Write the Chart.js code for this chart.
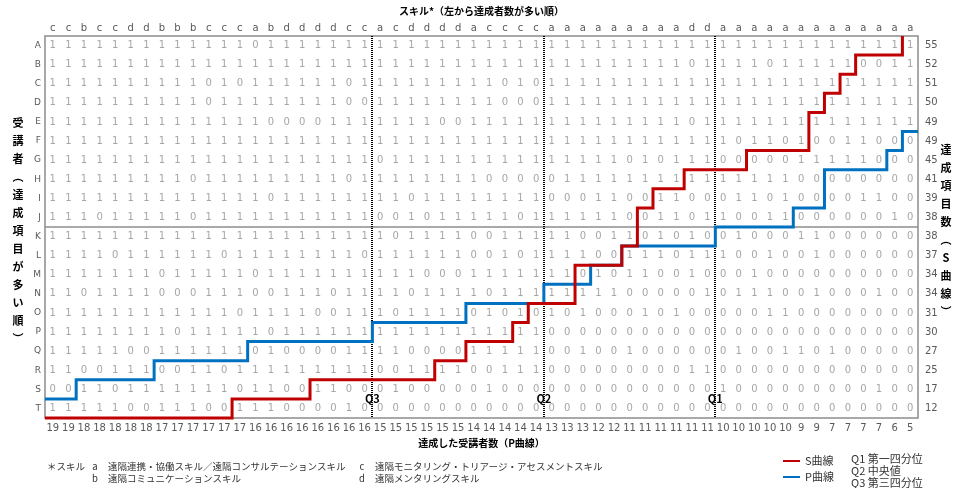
<!DOCTYPE html>
<html lang="ja">
<head>
<meta charset="utf-8">
<title>S-P表</title>
<script src="https://cdn.jsdelivr.net/npm/chart.js@4.4.1/dist/chart.umd.min.js"></script>
<style>
  html, body { margin: 0; padding: 0; background: #fff; }
  #wrap { width: 967px; height: 488px; }
</style>
</head>
<body>
<div id="wrap"><canvas id="spChart" width="967" height="488"></canvas></div>
<script>
// skills, left to right (most achievers first)
const skills = ['c','c','b','c','c','d','d','b','b','b','c','c','c','a','b','d','d','d','d','c','c',
  'a','c','d','d','d','d','a','c','c','c','c','a','a','a','a','a','a','a','a','a','d','d',
  'a','a','a','a','a','a','a','a','a','a','a','a','a'];

const students = ['A','B','C','D','E','F','G','H','I','J','K','L','M','N','O','P','Q','R','S','T'];

// 1 = achieved, one string per student, one char per skill
const cells = [
  '11111111111110111111111111111111111111111111111111111111',
  '11111111111111111111111111111111111111111011110111110011',
  '11111111110101111110111111111010111111111111111111111111',
  '11111111110111111110011111111000111111111111111111111111',
  '11111111111111000011111110011111111111111011111111111111',
  '11111111111111111111111111111111111111111111011010011000',
  '11111111111111111111101111111111111110101110000011111000',
  '11111111101111111110111111110000011111111111111100000000',
  '11111111111111011111111011111111000110011000110100001100',
  '11101111101111111111100101111101111110011011001100000010',
  '11111111111111111111110111100111110011010100100011000000',
  '11110111111011111111011111100101111001110111001001000000',
  '11111110111110111111111100011111110101100100010000000000',
  '11011110001110011101111011110111111110000010111001000100',
  '11111111111101111001110111101010101000101000001100000000',
  '11111111011111011111111111111111000000000000000000000000',
  '11111001111110100001111000011111001001000000100110100000',
  '11001110011011111111100111100111000000000110000000000000',
  '00110111111101100110001000001000000000000001000000000100',
  '11111001110011100001000000000000000000000000000000000000'
];

// achieved items per student (S curve) and achievers per skill (P curve)
const sScores = [55, 52, 51, 50, 49, 49, 45, 41, 39, 38, 38, 37, 34, 34, 31, 30, 27, 25, 17, 12];
const pCounts = [19, 19, 18, 18, 18, 18, 18, 17, 17, 17, 17, 17, 17, 16, 16, 16, 16, 16, 16, 16, 16,
  15, 15, 15, 15, 15, 15, 14, 14, 14, 14, 14, 13, 13, 13, 12, 12, 11, 11, 11, 11, 11, 11,
  10, 10, 10, 10, 10, 9, 9, 7, 7, 7, 7, 6, 5];

// quartile markers: line drawn after this skill column
const quartiles = [
  { label: 'Q3', after: 21 },
  { label: 'Q2', after: 32 },
  { label: 'Q1', after: 43 }
];

const skillNotes = [
  ['a', '遠隔連携・協働スキル／遠隔コンサルテーションスキル'],
  ['b', '遠隔コミュニケーションスキル'],
  ['c', '遠隔モニタリング・トリアージ・アセスメントスキル'],
  ['d', '遠隔メンタリングスキル']
];
const quartileNotes = ['Q1 第一四分位', 'Q2 中央値', 'Q3 第三四分位'];

const CJK = '"Noto Sans CJK JP", "Noto Sans", sans-serif';
const NUM = '"DejaVu Sans", sans-serif';
const RED = '#c00000';
const BLUE = '#0070c0';

// step outlines built from the score arrays
const sLine = [];
sScores.forEach((s, i) => {
  sLine.push({ x: s + 0.5, y: i + 0.5 }, { x: s + 0.5, y: i + 1.5 });
});
sLine.push({ x: 0.5, y: students.length + 0.5 });

const pLine = [];
pCounts.forEach((c, j) => {
  pLine.push({ x: j + 0.5, y: c + 0.5 }, { x: j + 1.5, y: c + 0.5 });
});

const colTicks = (axis) => { axis.ticks = skills.map((_, j) => ({ value: j + 1 })); };
const rowTicks = (axis) => { axis.ticks = students.map((_, i) => ({ value: i + 1 })); };
const noGrid = { display: false, drawTicks: false };

function stacked(ctx, text, x, cy, step) {
  const chars = [...text].map((ch) => (ch === '（' ? '︵' : ch === '）' ? '︶' : ch));
  chars.forEach((ch, k) => ctx.fillText(ch, x, cy + (k - (chars.length - 1) / 2) * step));
}

const spTable = {
  id: 'spTable',
  beforeDatasetsDraw(chart) {
    const { ctx, chartArea: a, scales: { x, y } } = chart;
    ctx.save();

    ctx.font = '10px ' + NUM;
    ctx.fillStyle = '#a6a6a6';
    ctx.textAlign = 'center';
    ctx.textBaseline = 'middle';
    cells.forEach((row, i) => {
      [...row].forEach((v, j) => {
        ctx.fillText(v, x.getPixelForValue(j + 1), y.getPixelForValue(i + 1));
      });
    });

    // split between upper and lower half of the class
    ctx.strokeStyle = '#8c8c8c';
    ctx.lineWidth = 1.5;
    const mid = y.getPixelForValue(students.length / 2 + 0.5);
    ctx.beginPath();
    ctx.moveTo(a.left, mid);
    ctx.lineTo(a.right, mid);
    ctx.stroke();

    ctx.strokeRect(a.left, a.top, a.right - a.left, a.bottom - a.top);

    ctx.strokeStyle = '#000';
    ctx.lineWidth = 2;
    ctx.setLineDash([1, 1]);
    quartiles.forEach((q) => {
      const qx = Math.round(x.getPixelForValue(q.after + 0.5));
      ctx.beginPath();
      ctx.moveTo(qx, a.top);
      ctx.lineTo(qx, a.bottom);
      ctx.stroke();
    });
    ctx.restore();
  },
  afterDatasetsDraw(chart) {
    const { ctx, scales: { x, y } } = chart;
    ctx.save();
    ctx.font = 'bold 11px ' + CJK;
    ctx.fillStyle = '#000';
    ctx.textAlign = 'center';
    ctx.textBaseline = 'middle';
    quartiles.forEach((q) => {
      ctx.fillText(q.label, x.getPixelForValue(q.after + 0.5), y.getPixelForValue(students.length - 0.5));
    });
    ctx.restore();
  },
  afterDraw(chart) {
    const { ctx, chartArea: a } = chart;
    ctx.save();
    ctx.fillStyle = '#000';
    ctx.textAlign = 'center';
    ctx.textBaseline = 'middle';
    ctx.font = 'bold 11px ' + CJK;
    const cy = (a.top + a.bottom) / 2 + 4;
    stacked(ctx, '受講者（達成項目が多い順）', 18, cy, 18);
    stacked(ctx, '達成項目数（S曲線）', 946, cy, 18);

    // skill key
    ctx.fillStyle = '#333';
    ctx.font = '9.5px ' + CJK;
    ctx.textAlign = 'left';
    ctx.fillText('＊スキル', 47, 466);
    skillNotes.forEach(([k, txt], i) => {
      const col = i < 2 ? 0 : 1;
      const row = i % 2;
      const kx = col ? 362 : 95;
      const ky = 466 + row * 12;
      ctx.textAlign = 'center';
      ctx.fillText(k, kx, ky);
      ctx.textAlign = 'left';
      ctx.fillText(txt, kx + 13, ky);
    });

    // curve key
    ctx.font = '11px ' + CJK;
    chart.data.datasets.forEach((ds, i) => {
      const ly = 461 + i * 16;
      ctx.strokeStyle = ds.borderColor;
      ctx.lineWidth = 2;
      ctx.beginPath();
      ctx.moveTo(783, ly);
      ctx.lineTo(800, ly);
      ctx.stroke();
      ctx.fillText(ds.label, 805, ly);
    });
    quartileNotes.forEach((t, i) => ctx.fillText(t, 851, 459 + i * 12));
    ctx.restore();
  }
};

new Chart(document.getElementById('spChart'), {
  type: 'line',
  data: {
    datasets: [
      { label: 'S曲線', data: sLine, borderColor: RED, borderWidth: 3, pointRadius: 0, fill: false, order: 0, clip: 3 },
      { label: 'P曲線', data: pLine, borderColor: BLUE, borderWidth: 3, pointRadius: 0, fill: false, order: 1, clip: 3 }
    ]
  },
  options: {
    responsive: false,
    animation: false,
    layout: { padding: 0 },
    plugins: { legend: { display: false }, tooltip: { enabled: false } },
    scales: {
      x: {
        type: 'linear', position: 'bottom', min: 0.5, max: 56.5,
        afterBuildTicks: colTicks,
        afterFit: (s) => { s.height = 70; },
        grid: noGrid, border: { display: false },
        ticks: { autoSkip: false, maxRotation: 0, padding: 4, color: '#595959',
          font: { family: NUM, size: 10 }, callback: (v) => pCounts[v - 1] },
        title: { display: true, text: '達成した受講者数（P曲線）', color: '#000',
          font: { family: CJK, size: 10, weight: 'bold' }, padding: { top: 0, bottom: 39 } }
      },
      xTop: {
        type: 'linear', position: 'top', min: 0.5, max: 56.5,
        afterBuildTicks: colTicks,
        afterFit: (s) => { s.height = 36; },
        grid: noGrid, border: { display: false },
        ticks: { autoSkip: false, maxRotation: 0, padding: 2, color: '#595959',
          font: { family: NUM, size: 10 }, callback: (v) => skills[v - 1] },
        title: { display: true, text: 'スキル*（左から達成者数が多い順）', color: '#000',
          font: { family: CJK, size: 10, weight: 'bold' }, padding: { top: 5, bottom: 0 } }
      },
      y: {
        type: 'linear', position: 'left', reverse: true, min: 0.5, max: students.length + 0.5,
        afterBuildTicks: rowTicks,
        afterFit: (s) => { s.width = 45; },
        grid: noGrid, border: { display: false },
        ticks: { autoSkip: false, padding: 4, color: '#595959',
          font: { family: NUM, size: 9 }, callback: (v) => students[v - 1] }
      },
      yRight: {
        type: 'linear', position: 'right', reverse: true, min: 0.5, max: students.length + 0.5,
        afterBuildTicks: rowTicks,
        afterFit: (s) => { s.width = 49; },
        grid: noGrid, border: { display: false },
        ticks: { autoSkip: false, padding: 7, color: '#595959',
          font: { family: NUM, size: 10 }, callback: (v) => sScores[v - 1] }
      }
    }
  },
  plugins: [spTable]
});
</script>
</body>
</html>
